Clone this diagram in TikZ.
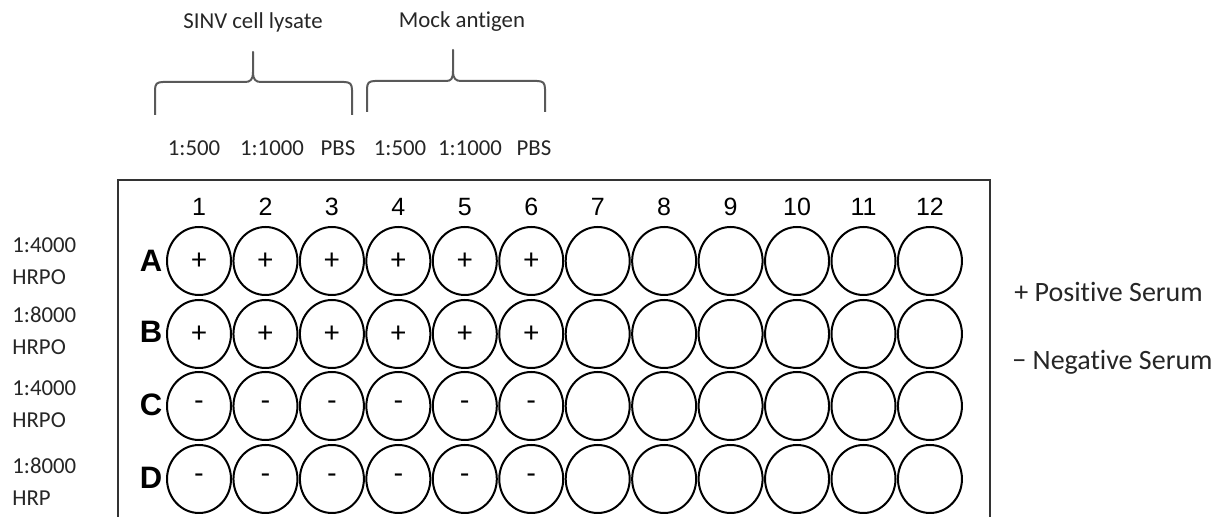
\documentclass[tikz,border=0pt]{standalone}
\usepackage{fontspec}
\setmainfont{Carlito}[Ligatures=NoCommon]
\newfontfamily\platefont{Liberation Sans}
\usepackage{tikz}
\usetikzlibrary{
	shapes.geometric
}
\usepackage{xcolor}

\tikzset{
	well/.style={draw, ellipse, line width=1pt, minimum width=32pt, minimum height=34pt, inner sep=0pt, font=\fontsize{15}{17}\selectfont},
	lbl/.style={inner sep=0pt, text=black!85, font=\fontsize{11.4}{16}\selectfont},
	legendtext/.style={inner sep=0pt, anchor=west, text=black!85, font=\fontsize{14}{16}\selectfont},
	colnum/.style={inner sep=0pt, font=\platefont\fontsize{12.5}{14}\selectfont},
	rowletter/.style={inner sep=0pt, font=\platefont\bfseries\fontsize{15.5}{18}\selectfont},
	bracket/.style={draw=black!65, line width=1pt, line join=round},
	plate/.style={draw=black!80, line width=1.25pt}
}

\begin{document}
\begin{tikzpicture}[x=0.5pt, y=-0.5pt]
			
			\useasboundingbox (0,0) rectangle (1232,517);
			
			% antigen groups
			\node[lbl] (sinv) at (253,22) {SINV cell lysate};
			\node[lbl] (mock) at (462,22) {Mock antigen};
			
			\draw[bracket] (155,115) -- (155,90) .. controls (155,84) and (157,82) .. (163,82) -- (245,82) .. controls (250,82) and (253,80) .. (253,72) -- (253,52) -- (253,72) .. controls (253,80) and (256,82) .. (261,82) -- (344,82) .. controls (350,82) and (352,84) .. (352,90) -- (352,115);
			\draw[bracket] (367,112) -- (367,89) .. controls (367,83) and (369,81) .. (375,81) -- (446,81) .. controls (451,81) and (453,79) .. (453,71) -- (453,50) -- (453,71) .. controls (453,79) and (456,81) .. (461,81) -- (537,81) .. controls (543,81) and (545,83) .. (545,89) -- (545,112);
			
			% dilutions
			\node[lbl] (c1) at (194,148) {1:500};
			\node[lbl] (c2) at (272,148) {1:1000};
			\node[lbl] (c3) at (338,148) {PBS};
			\node[lbl] (c4) at (400,148) {1:500};
			\node[lbl] (c5) at (470,148) {1:1000};
			\node[lbl] (c6) at (534,148) {PBS};
			
			% plate
			\draw[plate] (118,517) -- (118,180) -- (990,180) -- (990,517);
			
			\foreach \c in {1,...,12}{
				\pgfmathsetmacro{\xc}{199+66.45*(\c-1)}
				\node[colnum] (n\c) at (\xc,207) {\c};
			}
			
			\node[rowletter] (rA) at (151,261) {A};
			\node[rowletter] (rB) at (151,332) {B};
			\node[rowletter] (rC) at (151,405) {C};
			\node[rowletter] (rD) at (151,478) {D};
			
			\foreach \r/\yr/\s in {A/261/+,B/334/+,C/406/-,D/479/-}{
				\foreach \c in {1,...,12}{
					\pgfmathsetmacro{\xc}{199+66.45*(\c-1)}
					\ifnum\c<7
						\node[well] (\r\c) at (\xc,\yr) {\s};
					\else
						\node[well] (\r\c) at (\xc,\yr) {};
					\fi
				}
			}
			
			% conjugate dilutions
			\node[lbl, anchor=west, align=left] (dA) at (12,261) {1:4000\\HRPO};
			\node[lbl, anchor=west, align=left] (dB) at (12,331) {1:8000\\HRPO};
			\node[lbl, anchor=west, align=left] (dC) at (12,404) {1:4000\\HRPO};
			\node[lbl, anchor=west, align=left] (dD) at (12,482) {1:8000\\HRP};
			
			% legend
			\node[legendtext] (pos) at (1014,292) {+ Positive Serum};
			\node[legendtext] (neg) at (1012,362) {− Negative Serum};
			
		\end{tikzpicture}
\end{document}
